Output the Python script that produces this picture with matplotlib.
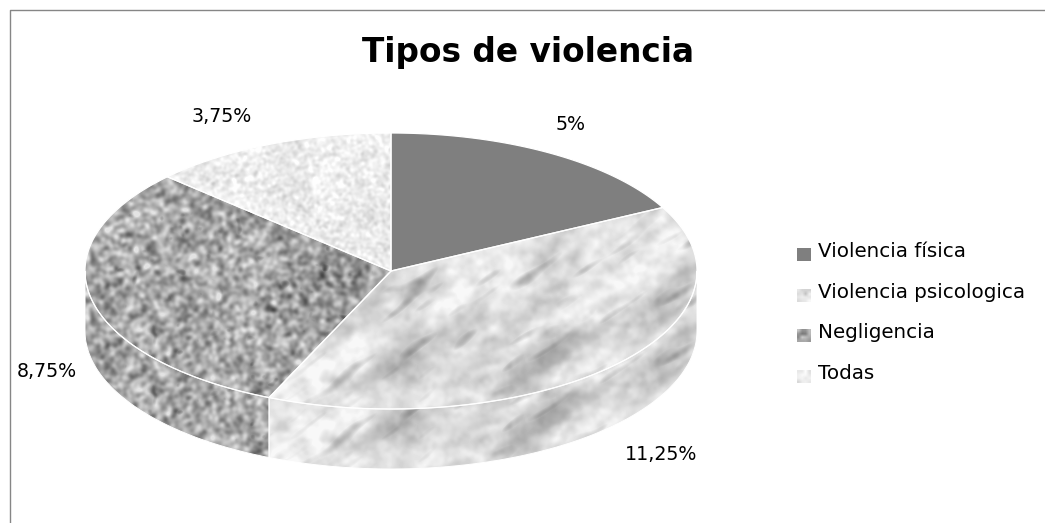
# -*- coding: utf-8 -*-
import numpy as np
import matplotlib
matplotlib.use('Agg')
import matplotlib.pyplot as plt
from matplotlib.patches import Polygon, Rectangle

plt.rcParams['font.family'] = ['DejaVu Sans']

# data
title = 'Tipos de violencia'
categories = ['Violencia física', 'Violencia psicologica', 'Negligencia', 'Todas']
values = [5, 11.25, 8.75, 3.75]
value_labels = ['5%', '11,25%', '8,75%', '3,75%']

W, H = 1045, 523
cx, cy, rx, ry, depth = 391, 271, 306, 138, 60


def noise(sx, sy, angle, seed):
    # gaussian filtered noise, normalised to unit std
    rng = np.random.default_rng(seed)
    n = rng.standard_normal((H + 100, W))
    fy = np.fft.fftfreq(n.shape[0])[:, None]
    fx = np.fft.fftfreq(n.shape[1])[None, :]
    a = np.deg2rad(angle)
    u = fx * np.cos(a) - fy * np.sin(a)
    v = fx * np.sin(a) + fy * np.cos(a)
    g = np.exp(-2 * np.pi ** 2 * ((u * sx) ** 2 + (v * sy) ** 2))
    out = np.fft.ifft2(np.fft.fft2(n) * g).real
    return out / out.std()


def tex_marble():
    streak = noise(13, 3, 35, 1)
    blot = noise(5, 3.5, 20, 9)
    wide = noise(26, 11, 35, 2)
    fine = noise(2, 2, 0, 3)
    t = 226 + 8 * wide + 8 * blot + 3 * fine
    t = t - 24 * np.clip(streak - 0.8, 0, None) - 10 * np.clip(-wide - 0.3, 0, None)
    return np.clip(t, 120, 248)


def tex_grain():
    fine = noise(2.1, 2.1, 0, 4)
    spots = noise(2.6, 2.6, 0, 5)
    big = noise(22, 22, 0, 6)
    t = 168 + 24 * fine + 6 * big - 30 * np.clip(spots - 1.7, 0, None)
    return np.clip(t, 70, 228)


def tex_speckle():
    fine = noise(1.5, 1.5, 0, 7)
    big = noise(14, 14, 0, 8)
    return np.clip(236 + 9 * fine + 3 * big, 200, 254)


def ell(theta, dy=0):
    # theta in degrees clockwise from 12 o'clock
    t = np.deg2rad(theta)
    return np.column_stack([cx + rx * np.sin(t), cy - ry * np.cos(t) + dy])


textures = [None, tex_marble(), tex_grain(), tex_speckle()]
dark = '#7f7f7f'

fig = plt.figure(figsize=(W / 100, H / 100), dpi=100)
ax = fig.add_axes([0, 0, 1, 1])
ax.set_xlim(0, W)
ax.set_ylim(H, 0)
ax.axis('off')

# chart frame
ax.plot([9.5, 9.5, W], [H, 9.5, 9.5], color='#868686', lw=1, solid_capstyle='butt')


def fill(pts, i, dy=0):
    poly = Polygon(pts, closed=True, fc='none', ec='none')
    ax.add_patch(poly)
    if textures[i] is None:
        poly.set_facecolor(dark)
        return
    im = ax.imshow(textures[i], cmap='gray', vmin=0, vmax=255, aspect='auto',
                   extent=[0, W, H + dy + 100, dy], interpolation='bilinear')
    im.set_clip_path(poly)


edges = np.cumsum([0] + values) / np.sum(values) * 360

# side walls first
for i in range(len(values)):
    a0, a1 = max(edges[i], 90), min(edges[i + 1], 270)
    if a1 <= a0:
        continue
    arc = np.linspace(a0, a1, 120)
    pts = np.vstack([ell(arc), ell(arc[::-1], depth)])
    fill(pts, i, depth)
    ax.add_patch(Polygon(pts, closed=True, fc='none', ec='white', lw=0.7))

# top face
for i in range(len(values)):
    arc = np.linspace(edges[i], edges[i + 1], 200)
    pts = np.vstack([[cx, cy], ell(arc)])
    fill(pts, i)
    ax.add_patch(Polygon(pts, closed=True, fc='none', ec='white', lw=0.9))

ax.set_xlim(0, W)
ax.set_ylim(H, 0)

# texts
ax.text(528, 62, title, fontsize=23.6, fontweight='bold', ha='center', va='baseline', color='black')
label_pos = [(570.5, 130), (661, 460), (47, 377), (222, 122)]
for lab, (x, y) in zip(value_labels, label_pos):
    ax.text(x, y, lab, fontsize=13.7, ha='center', va='baseline', color='black')

# legend
for i, name in enumerate(categories):
    y0 = 248 + i * 40.7
    ax.text(818, y0 + 9, name, fontsize=14.3, ha='left', va='baseline', color='black')
    if textures[i] is None:
        ax.add_patch(Rectangle((797, y0), 14, 13, fc=dark, ec='none'))
    else:
        ax.imshow(textures[i][200:260:15, 300:360:15], cmap='gray', vmin=0, vmax=255,
                  aspect='auto', extent=[797, 811, y0 + 13, y0], interpolation='bilinear')

ax.set_xlim(0, W)
ax.set_ylim(H, 0)
fig.savefig('out.png', dpi=100)
